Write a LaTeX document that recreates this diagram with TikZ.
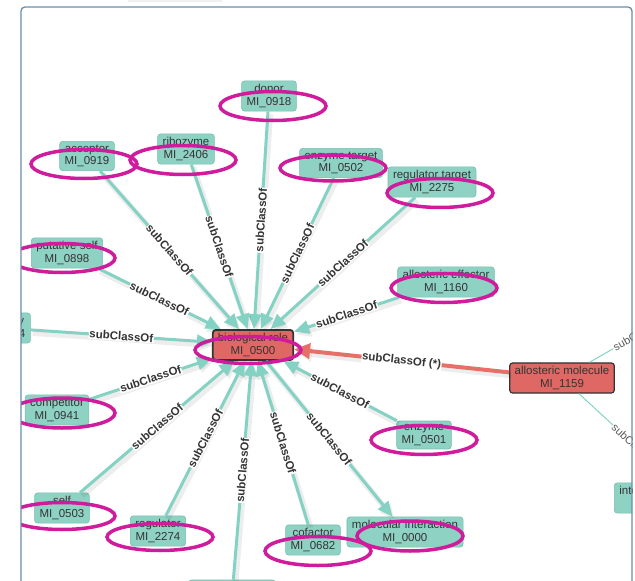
\documentclass[tikz,border=0pt]{standalone}
\usepackage{fontspec}
\setmainfont{Liberation Sans}
\usetikzlibrary{arrows.meta,shapes.geometric}
\definecolor{tealfill}{RGB}{142,210,196}
\definecolor{tealedge}{RGB}{132,210,195}
\definecolor{tealborder}{RGB}{118,188,172}
\definecolor{redfill}{RGB}{224,104,100}
\definecolor{rededge}{RGB}{228,112,104}
\definecolor{ringc}{RGB}{206,28,156}
\definecolor{framec}{RGB}{104,142,172}
\definecolor{txt}{RGB}{52,52,52}
\begin{document}
\begin{tikzpicture}[x=1pt,y=-1pt,
  tnode/.style={draw=tealborder, fill=tealfill, rounded corners=3pt, align=center,
    font=\fontsize{11.5}{12.5}\selectfont, text=txt, inner xsep=5pt, inner ysep=3.5pt, line width=0.6pt},
  rnode/.style={tnode, fill=redfill, draw=black!80, line width=1.2pt},
  shadowed/.style={preaction={draw=black, opacity=0.07, line width=6pt, transform canvas={shift={(2pt,-3pt)}}}},
  sedge/.style={shadowed, draw=tealedge, line width=3pt, -{Triangle[length=15pt,width=13pt]}},
  redge/.style={shadowed, draw=rededge, line width=4pt, -{Triangle[length=16pt,width=15pt]}},
  fedge/.style={draw=tealedge, line width=1pt},
  lbl/.style={font=\bfseries\fontsize{11.5}{12}\selectfont, text=txt, fill=white, inner sep=0.6pt, sloped, pos=0.5},
  flbl/.style={font=\fontsize{11}{12}\selectfont, text=black!65, fill=white, inner sep=0.6pt, sloped, pos=0.5},
  ring/.style={draw=ringc, line width=3.5pt, ellipse, inner sep=0pt},
]
\useasboundingbox (0,0) rectangle (635,581);
\fill[black!6] (128,-3) rectangle (222,1.5);
\begin{scope}
\clip[rounded corners=4pt] (21,7) rectangle (632,640);
% nodes
\node[tnode] (donor) at (269,96) {donor\\MI\_0918};
\node[tnode] (acceptor) at (87,156) {acceptor\\MI\_0919};
\node[tnode] (ribozyme) at (186,149) {ribozyme\\MI\_2406};
\node[tnode] (enztarget) at (341,163) {enzyme target\\MI\_0502};
\node[tnode] (regtarget) at (432,182) {regulator target\\MI\_2275};
\node[tnode] (putself) at (67,253) {putative self\\MI\_0898};
\node[tnode] (ancillary) at (3,328) {ancillary\\MI\_0684};
\node[rnode, line width=1.8pt] (bio) at (253,345) {biological role\\MI\_0500};
\node[tnode] (alloeff) at (446,282) {allosteric effector\\MI\_1160};
\node[rnode] (allomol) at (562,378) {allosteric molecule\\MI\_1159};
\node[tnode] (competitor) at (57,410) {competitor\\MI\_0941};
\node[tnode] (self) at (62,508) {self\\MI\_0503};
\node[tnode] (regulator) at (158,531) {regulator\\MI\_2274};
\node[tnode] (cofactor) at (313,540) {cofactor\\MI\_0682};
\node[tnode] (molint) at (405,532) {molecular interaction\\MI\_0000};
\node[tnode] (enzyme) at (424,435) {enzyme\\MI\_0501};
\node[tnode, minimum width=87pt, minimum height=32pt] (lownode) at (232,596) {};
\node[tnode, anchor=west] (intnode) at (614,498) {interactor type\\MI\_0000};
\coordinate (offA) at (688,306);
\coordinate (offB) at (690,496);
% edges
\draw[sedge] (donor) -- node[lbl]{subClassOf} (bio);
\draw[sedge] (acceptor) -- node[lbl]{subClassOf} (bio);
\draw[sedge] (ribozyme) -- node[lbl]{subClassOf} (bio);
\draw[sedge] (enztarget) -- node[lbl]{subClassOf} (bio);
\draw[sedge] (regtarget) -- node[lbl]{subClassOf} (bio);
\draw[sedge] (putself) -- node[lbl]{subClassOf} (bio);
\draw[sedge] (ancillary) -- node[lbl]{subClassOf} (bio);
\draw[sedge] (alloeff) -- node[lbl]{subClassOf} (bio);
\draw[sedge] (competitor) -- node[lbl]{subClassOf} (bio);
\draw[sedge] (self) -- node[lbl]{subClassOf} (bio);
\draw[sedge] (regulator) -- node[lbl]{subClassOf} (bio);
\draw[sedge] (lownode) -- node[lbl]{subClassOf} (bio);
\draw[sedge] (cofactor) -- node[lbl]{subClassOf} (bio);
\draw[sedge] (enzyme) -- node[lbl]{subClassOf} (bio);
\draw[sedge] (bio) -- node[lbl]{subClassOf} (molint);
\draw[redge] (allomol) -- node[lbl]{subClassOf (*)} (bio);
\draw[fedge] (allomol) -- node[flbl]{subClassOf} (offA);
\draw[fedge] (allomol) -- node[flbl]{subClassOf} (offB);
% annotation rings
\node[ring, minimum width=106pt, minimum height=29pt] (r1) at (273,106) {};
\node[ring, minimum width=106pt, minimum height=29pt] (r2) at (84,164) {};
\node[ring, minimum width=106pt, minimum height=29pt] (r3) at (183,160) {};
\node[ring, minimum width=106pt, minimum height=26pt] (r4) at (333,168) {};
\node[ring, minimum width=106pt, minimum height=29pt] (r5) at (440,193) {};
\node[ring, minimum width=106pt, minimum height=29pt] (r6) at (62,258) {};
\node[ring, minimum width=106pt, minimum height=29pt] (r7) at (444,288) {};
\node[ring, minimum width=106pt, minimum height=27pt] (r8) at (248,350) {};
\node[ring, minimum width=106pt, minimum height=30pt] (r9) at (62,413) {};
\node[ring, minimum width=106pt, minimum height=27pt] (r10) at (62,516) {};
\node[ring, minimum width=106pt, minimum height=27pt] (r11) at (160,537) {};
\node[ring, minimum width=106pt, minimum height=29pt] (r12) at (318,551) {};
\node[ring, minimum width=106pt, minimum height=30pt] (r13) at (410,536) {};
\node[ring, minimum width=106pt, minimum height=29pt] (r14) at (424,440) {};
\end{scope}
\draw[framec, line width=1.3pt, rounded corners=4pt] (21,640) -- (21,7) -- (632,7) -- (632,640);
\end{tikzpicture}
\end{document}
